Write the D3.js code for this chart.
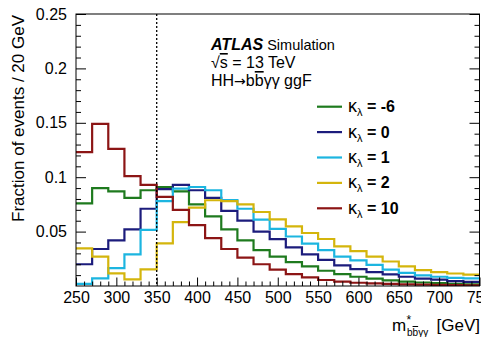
<!DOCTYPE html>
<html>
<head>
<meta charset="utf-8">
<script src="https://cdn.jsdelivr.net/npm/d3@7"></script>
<style>
  html, body { margin: 0; padding: 0; background: #fff; }
  svg { display: block; font-family: "Liberation Sans", Arial, Helvetica, sans-serif; }
</style>
</head>
<body>
<svg id="chart" width="481" height="337"></svg>
<script>
// Bin lower edges (GeV), 20 GeV wide bins from 250 to 750
const binLow = [250, 270, 290, 310, 330, 350, 370, 390, 410, 430, 450, 470, 490,
                510, 530, 550, 570, 590, 610, 630, 650, 670, 690, 710, 730];
const binWidth = 20;

// Normalised m*_bbyy distributions for each kappa_lambda value
const kMinus6 = [0.076, 0.090, 0.087, 0.081, 0.088, 0.091, 0.087, 0.075, 0.064, 0.052,
                 0.042, 0.033, 0.027, 0.022, 0.018, 0.014, 0.011, 0.0085, 0.0068, 0.0052,
                 0.004, 0.0032, 0.0026, 0.002, 0.0016];
const k0     = [0.020, 0.034, 0.042, 0.052, 0.071, 0.089, 0.093, 0.088, 0.081, 0.069,
                 0.060, 0.050, 0.043, 0.0355, 0.029, 0.024, 0.019, 0.0155, 0.0128, 0.0107,
                 0.0085, 0.0068, 0.0058, 0.0045, 0.0037];
const k1     = [0.002, 0.007, 0.0165, 0.029, 0.0515, 0.078, 0.0895, 0.091, 0.088, 0.079,
                 0.071, 0.061, 0.0525, 0.0455, 0.039, 0.033, 0.027, 0.0235, 0.0195, 0.015,
                 0.012, 0.0098, 0.0085, 0.0075, 0.007];
const k2     = [0.0346, 0.027, 0.0116, 0.0061, 0.0153, 0.0392, 0.0588, 0.072, 0.0788, 0.078,
                 0.075, 0.068, 0.0613, 0.0548, 0.0487, 0.0432, 0.0365, 0.032, 0.027, 0.0225,
                 0.018, 0.0145, 0.0128, 0.0115, 0.0105];
const k10    = [0.123, 0.149, 0.126, 0.101, 0.093, 0.082, 0.070, 0.056, 0.044, 0.034,
                 0.026, 0.020, 0.015, 0.011, 0.008, 0.0055, 0.004, 0.003, 0.0025, 0.002,
                 0.0015, 0.0012, 0.001, 0.0008, 0.0006];

const seriesValues = [kMinus6, k0, k1, k2, k10];
const kappaLabels = ["-6", "0", "1", "2", "10"];
const seriesColors = ["#1e7a1e", "#1c1c7c", "#1cb5e0", "#d4b50c", "#8c1515"];

// Axis ticks
const xMajorTicks = [250, 300, 350, 400, 450, 500, 550, 600, 650, 700, 750];
const yMajorTicks = [0.05, 0.1, 0.15, 0.2, 0.25];
const yTickLabels = ["0.05", "0.1", "0.15", "0.2", "0.25"];
const cutValue = 350;

const svg = d3.select("#chart");
const frame = { left: 76, right: 479.5, top: 14, bottom: 286 };

const x = d3.scaleLinear().domain([250, 750]).range([frame.left, frame.right]);
const y = d3.scaleLinear().domain([0, 0.25]).range([frame.bottom, frame.top]);

const fontFamily = '"Liberation Sans", Arial, Helvetica, sans-serif';

svg.append("defs").append("clipPath").attr("id", "plotClip")
  .append("rect")
  .attr("x", frame.left).attr("y", frame.top)
  .attr("width", frame.right - frame.left).attr("height", frame.bottom - frame.top);

// Histograms as step outlines
const step = d3.line()
  .x(d => x(d[0]))
  .y(d => y(d[1]))
  .curve(d3.curveStepAfter);

const histG = svg.append("g").attr("clip-path", "url(#plotClip)");
seriesValues.forEach((vals, i) => {
  const pts = binLow.map((b, j) => [b, vals[j]]);
  pts.push([binLow[binLow.length - 1] + binWidth, vals[vals.length - 1]]);
  histG.append("path")
    .attr("d", step(pts))
    .attr("fill", "none")
    .attr("stroke", seriesColors[i])
    .attr("stroke-width", 2.2)
    .attr("stroke-linejoin", "miter");
});

// Vertical cut line
svg.append("line")
  .attr("x1", x(cutValue)).attr("x2", x(cutValue))
  .attr("y1", y(0.25)).attr("y2", y(0))
  .attr("stroke", "#000")
  .attr("stroke-width", 1.3)
  .attr("stroke-dasharray", "2,2");

// Axes with inward ticks
function styleAxis(g) {
  g.select(".domain").remove();
  g.selectAll(".tick line").attr("stroke", "#000").attr("stroke-width", 1);
  g.selectAll("text").attr("font-family", fontFamily).attr("font-size", 16).attr("fill", "#000");
}

const xMinor = d3.range(250, 751, 10).filter(v => v % 50 !== 0);
const yMinor = d3.range(0, 26).map(v => v / 100).filter(v => Math.round(v * 100) % 5 !== 0);

svg.append("g")
  .attr("transform", `translate(0,${frame.bottom})`)
  .call(d3.axisBottom(x).tickValues(xMinor).tickSize(-4.5).tickFormat(""))
  .call(styleAxis);
svg.append("g")
  .attr("transform", `translate(0,${frame.bottom})`)
  .call(d3.axisBottom(x).tickValues(xMajorTicks).tickSize(-8.5).tickPadding(6).tickFormat(d3.format("d")))
  .call(styleAxis);

svg.append("g")
  .attr("transform", `translate(${frame.left},0)`)
  .call(d3.axisLeft(y).tickValues(yMinor).tickSize(-5).tickFormat(""))
  .call(styleAxis);
svg.append("g")
  .attr("transform", `translate(${frame.left},0)`)
  .call(d3.axisLeft(y).tickValues(yMajorTicks).tickSize(-10).tickPadding(9)
        .tickFormat((d, i) => yTickLabels[i]))
  .call(styleAxis);

svg.append("g")
  .attr("transform", `translate(${frame.right},0)`)
  .call(d3.axisRight(y).tickValues(yMinor).tickSize(-5).tickFormat(""))
  .call(styleAxis);
svg.append("g")
  .attr("transform", `translate(${frame.right},0)`)
  .call(d3.axisRight(y).tickValues(yMajorTicks).tickSize(-10).tickFormat(""))
  .call(styleAxis);

// Frame
svg.append("rect")
  .attr("x", frame.left).attr("y", frame.top)
  .attr("width", frame.right - frame.left).attr("height", frame.bottom - frame.top)
  .attr("fill", "none").attr("stroke", "#000").attr("stroke-width", 1);

// Axis titles
svg.append("text")
  .attr("transform", `translate(24,${frame.top + 1}) rotate(-90)`)
  .attr("text-anchor", "end")
  .attr("font-size", 17)
  .attr("fill", "#000")
  .text("Fraction of events / 20 GeV");

// x title: m* with subscript bb̄γγ, then unit
const xtG = svg.append("g").attr("fill", "#000");
xtG.append("text").attr("x", 480).attr("y", 331).attr("text-anchor", "end")
  .attr("font-size", 17).text("[GeV]");
xtG.append("text").attr("x", 392).attr("y", 331).attr("font-size", 17).text("m");
xtG.append("text").attr("x", 406.5).attr("y", 324).attr("font-size", 12).text("*");
const sub = xtG.append("text").attr("x", 407).attr("y", 336).attr("font-size", 10);
sub.append("tspan").text("b");
sub.append("tspan").style("text-decoration", "overline").text("b");
sub.append("tspan").text("γγ");

// ATLAS label block
const lab = svg.append("g").attr("font-size", 16).attr("fill", "#000");
const l1 = lab.append("text").attr("x", 211).attr("y", 50);
l1.append("tspan").attr("font-weight", "bold").attr("font-style", "italic").text("ATLAS");
l1.append("tspan").attr("font-size", 14.5).text(" Simulation");
const l2 = lab.append("text").attr("x", 211).attr("y", 68);
l2.append("tspan").text("√");
l2.append("tspan").style("text-decoration", "overline").text("s");
l2.append("tspan").text(" = 13 TeV");
const l3 = lab.append("text").attr("x", 211).attr("y", 86);
l3.append("tspan").text("HH");
l3.append("tspan").attr("font-family", '"DejaVu Sans", sans-serif').attr("font-size", 14).text("→");
l3.append("tspan").text("b");
l3.append("tspan").style("text-decoration", "overline").text("b");
l3.append("tspan").text("γγ ggF");

// Legend
const legend = svg.append("g");
kappaLabels.forEach((lbl, i) => {
  const cy = 106.7 + 25.4 * i;
  legend.append("line")
    .attr("x1", 317).attr("x2", 342)
    .attr("y1", cy).attr("y2", cy)
    .attr("stroke", seriesColors[i]).attr("stroke-width", 2.2);
  const t = legend.append("text")
    .attr("x", 348).attr("y", cy + 5.5)
    .attr("font-size", 16).attr("fill", "#000");
  t.append("tspan").attr("font-size", 18).text("κ");
  t.append("tspan").attr("font-size", 11).attr("dy", 4).text("λ");
  t.append("tspan").attr("font-weight", "bold").attr("dy", -4).text(" = " + lbl);
});
</script>
</body>
</html>
